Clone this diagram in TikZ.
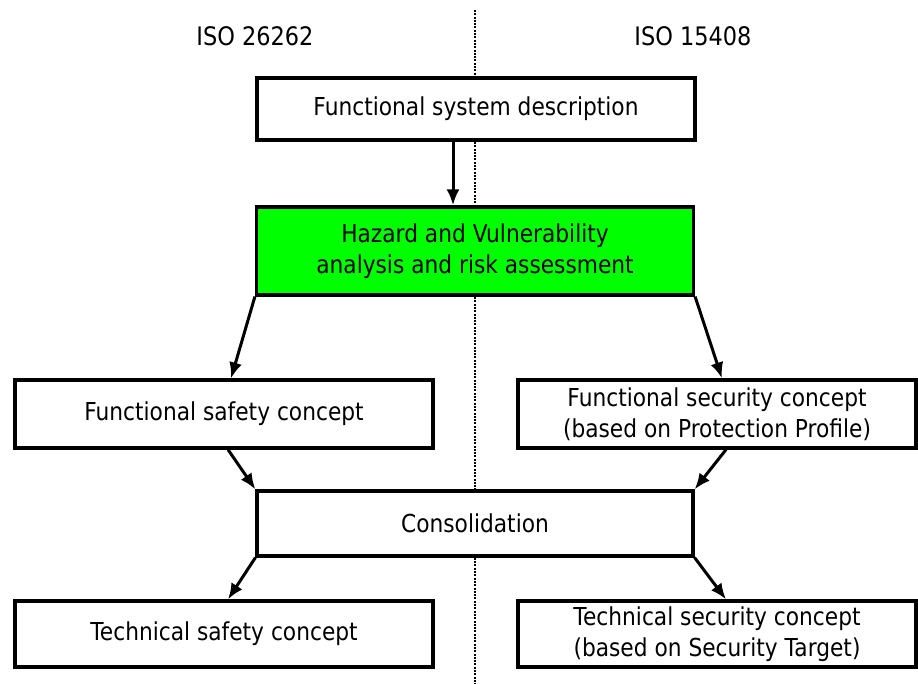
\documentclass[tikz,border=0pt]{standalone}
\usepackage{fontspec}
\setmainfont[FakeStretch=0.88]{DejaVu Sans}
\usetikzlibrary{arrows.meta}
\usetikzlibrary{positioning}
\tikzset{> = {Latex[length=16pt, width=13pt]},
  box/.style = {draw, fill=white, line width=3.2pt, align=center, inner sep=0pt,
    font=\fontsize{24.7}{30.5}\selectfont},
  head/.style = {font=\fontsize{25.5}{30}\selectfont},
  link/.style = {->, line width=3pt}}

\begin{document}
\begin{tikzpicture}[x=1pt, y=-1pt]
  \useasboundingbox (0,0) rectangle (918,684);
  % divider
  \coordinate (divtop) at (475,10);
  \coordinate (divbot) at (475,684);
  \draw [line width=2.3pt, dash pattern=on 2pt off 1.3pt] (divtop) -- (divbot);
  % headings
  \node [head] (iso26262) at (255,36) {ISO 26262};
  \node [head] (iso15408) at (693,36) {ISO 15408};
  % nodes
  \node [box, minimum width=438pt, minimum height=62pt] (sysdesc) at (476,109) {Functional system description};
  \node [box, fill={rgb,255:red,0;green,255;blue,0}, minimum width=437pt, minimum height=88pt] (hara) at (475,251)
    {Hazard and Vulnerability\\analysis and risk assessment};
  \node [box, minimum width=418pt, minimum height=68pt] (fsc) at (224,414) {Functional safety concept};
  \node [box, minimum width=398pt, minimum height=68pt] (fsec) at (717,414)
    {Functional security concept\\(based on Protection Profile)};
  \node [box, minimum width=436pt, minimum height=65pt] (consol) at (475,523.5) {Consolidation};
  \node [box, minimum width=418pt, minimum height=66pt] (tsc) at (224,634) {Technical safety concept};
  \node [box, minimum width=398pt, minimum height=66pt] (tsec) at (717,634)
    {Technical security concept\\(based on Security Target)};
  % paths
  \draw [link] ([xshift=-23pt]sysdesc.south) -- ([xshift=-22pt]hara.north);
  \draw [link] (hara.south west) -- ([xshift=7pt]fsc.north);
  \draw [link] (hara.south east) -- ([xshift=5pt]fsec.north);
  \draw [link] ([xshift=4pt]fsc.south) -- (consol.north west);
  \draw [link] ([xshift=9pt]fsec.south) -- (consol.north east);
  \draw [link] (consol.south west) -- ([xshift=4pt]tsc.north);
  \draw [link] (consol.south east) -- ([xshift=9pt]tsec.north);
\end{tikzpicture}
\end{document}
